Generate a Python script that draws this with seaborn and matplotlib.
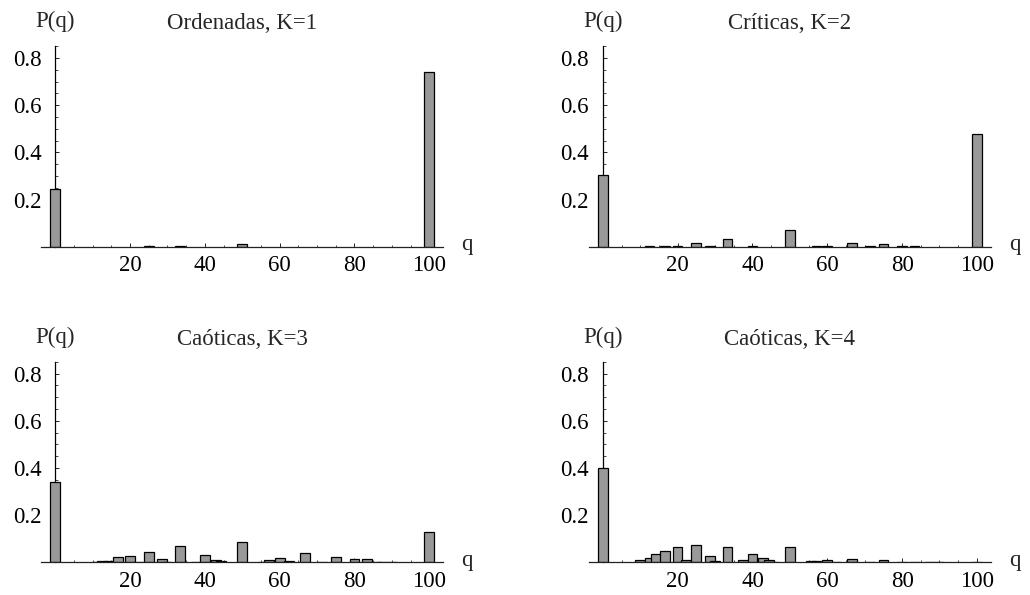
import numpy as np
import pandas as pd
import matplotlib
matplotlib.use("Agg")
import matplotlib.pyplot as plt
from matplotlib.ticker import MultipleLocator, FixedLocator, FixedFormatter
import seaborn as sns

# ---------------- data ----------------
titles = ["Ordenadas, K=1", "Críticas, K=2", "Caóticas, K=3", "Caóticas, K=4"]

q1 = [0, 25, 33.3, 50, 100]
p1 = [0.244, 0.001, 0.001, 0.010, 0.742]

q2 = [0, 12.5, 16.7, 20, 25, 28.6, 33.3, 40, 50, 57.1, 60, 66.7, 71.4, 75, 80, 83.3, 100]
p2 = [0.305, 0.001, 0.004, 0.004, 0.017, 0.002, 0.031, 0.004, 0.071, 0.001, 0.004,
      0.017, 0.002, 0.012, 0.004, 0.002, 0.478]

q3 = [0, 11.1, 12.5, 14.3, 16.7, 20, 22.2, 25, 28.6, 30, 33.3, 37.5, 40, 42.9, 44.4,
      50, 55.6, 57.1, 60, 62.5, 66.7, 71.4, 75, 80, 83.3, 85.7, 87.5, 90, 100]
p3 = [0.340, 0.002, 0.004, 0.007, 0.021, 0.028, 0.002, 0.045, 0.015, 0.002, 0.069,
      0.003, 0.031, 0.011, 0.004, 0.087, 0.002, 0.011, 0.020, 0.005, 0.041, 0.003,
      0.021, 0.015, 0.013, 0.003, 0.002, 0.001, 0.129]

q4 = [0, 10, 12.5, 14.3, 16.7, 20, 22.2, 25, 28.6, 30, 33.3, 37.5, 40, 42.9, 44.4,
      45.5, 50, 55.6, 57.1, 60, 62.5, 66.7, 71.4, 75, 80, 83.3, 87.5, 90, 100]
p4 = [0.400, 0.008, 0.018, 0.034, 0.046, 0.063, 0.011, 0.072, 0.025, 0.004, 0.063,
      0.011, 0.035, 0.017, 0.008, 0.003, 0.066, 0.004, 0.006, 0.010, 0.002, 0.013,
      0.002, 0.010, 0.002, 0.001, 0.001, 0.001, 0.003]

x_ticks = [20, 40, 60, 80, 100]
x_ticklabels = ["20", "40", "60", "80", "100"]
y_ticks = [0.2, 0.4, 0.6, 0.8]
y_ticklabels = ["0.2", "0.4", "0.6", "0.8"]

panels = [(q1, p1), (q2, p2), (q3, p3), (q4, p4)]

# ---------------- style ----------------
sns.set_theme(style="ticks")
plt.rcParams["font.family"] = ["Liberation Serif", "DejaVu Serif"]
FS = 16.5
BAR_W = 2.6
XLIM = (-3.8, 103.8)
YLIM = (0, 0.85)

fig = plt.figure(figsize=(10.30, 5.95), dpi=100)
W, H = 1030, 595
positions = [
    (41, 246.7), (588.6, 246.7),
    (41, 562.3), (588.6, 562.3),
]
ax_w_px = 402.5
ax_h_px = 200.5

for i, ((q, p), (lx, by)) in enumerate(zip(panels, positions)):
    ax = fig.add_axes([lx / W, 1 - by / H, ax_w_px / W, ax_h_px / H])
    df = pd.DataFrame({"q": q, "P": p})
    nw = float(np.min(np.diff(np.unique(df["q"]))))
    sns.barplot(data=df, x="q", y="P", native_scale=True, width=BAR_W / nw,
                color="#999999", saturation=1, edgecolor="black", linewidth=0.9,
                errorbar=None, ax=ax)
    ax.set_xlim(*XLIM)
    ax.set_ylim(*YLIM)
    ax.set_xlabel("")
    ax.set_ylabel("")
    for s in ["top", "right"]:
        ax.spines[s].set_visible(False)
    ax.spines["left"].set_position(("data", 0))
    ax.spines["left"].set_linewidth(0.9)
    ax.spines["left"].set_color("black")
    ax.spines["bottom"].set_linewidth(0.9)
    ax.spines["bottom"].set_color("#222222")
    ax.spines["left"].set_zorder(0.5)

    ax.xaxis.set_major_locator(FixedLocator(x_ticks))
    ax.xaxis.set_major_formatter(FixedFormatter(x_ticklabels))
    ax.xaxis.set_minor_locator(MultipleLocator(5))
    ax.yaxis.set_major_locator(FixedLocator(y_ticks))
    ax.yaxis.set_major_formatter(FixedFormatter(y_ticklabels))
    ax.yaxis.set_minor_locator(MultipleLocator(0.05))

    ax.tick_params(axis="both", which="major", direction="in", length=3,
                   width=0.6, colors="black", labelsize=FS)
    ax.tick_params(axis="both", which="minor", direction="in", length=1.8,
                   width=0.5, colors="black")
    ax.tick_params(axis="y", which="major", pad=10)
    ax.tick_params(axis="x", which="major", pad=6)

    ax.text(0.5, 1.112, titles[i], transform=ax.transAxes, ha="center",
            va="center", fontsize=FS)
    ax.annotate("P(q)", xy=(0, 1), xycoords=("data", "axes fraction"),
                xytext=(0, 17.5), textcoords="offset points", ha="center",
                va="center", fontsize=FS)
    ax.annotate("q", xy=(1, 0), xycoords=("axes fraction", "data"),
                xytext=(17, -2.4), textcoords="offset points", ha="center",
                va="baseline", fontsize=FS)

fig.savefig("out.png", dpi=100)
